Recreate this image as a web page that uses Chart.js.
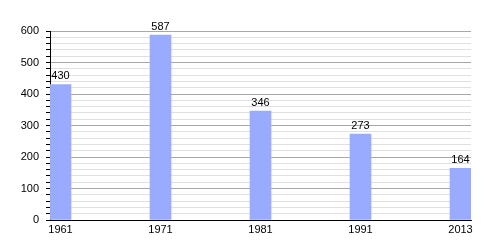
<!DOCTYPE html>
<html>
<head>
<meta charset="utf-8">
<script src="https://cdn.jsdelivr.net/npm/chart.js@4"></script>
<style>
  html, body { margin: 0; padding: 0; background: #fff; }
  #wrap { width: 500px; height: 250px; }
</style>
</head>
<body>
<div id="wrap"><canvas id="chart"></canvas></div>
<script>
// ==== DATA ====
const years  = ['1961', '1971', '1981', '1991', '2013'];
const values = [430, 587, 346, 273, 164];
const yTicks = [0, 100, 200, 300, 400, 500, 600];

const BAR_COLOR = '#99abff';
const FONT = { family: '"Liberation Sans", Arial, sans-serif', size: 11 };

// value labels above each bar
const valueLabels = {
  id: 'valueLabels',
  afterDatasetsDraw(chart) {
    const ctx = chart.ctx;
    const meta = chart.getDatasetMeta(0);
    ctx.save();
    ctx.font = `${FONT.size}px ${FONT.family}`;
    ctx.fillStyle = '#000';
    ctx.textAlign = 'center';
    ctx.textBaseline = 'bottom';
    meta.data.forEach((bar, i) => {
      ctx.fillText(String(values[i]), bar.x, bar.y - 3);
    });
    ctx.restore();
  }
};

new Chart(document.getElementById('chart'), {
  type: 'bar',
  data: {
    datasets: [{
      data: values.map((v, i) => ({ x: i, y: v })),
      backgroundColor: BAR_COLOR,
      borderWidth: 0,
      barThickness: 21
    }]
  },
  options: {
    responsive: true,
    maintainAspectRatio: false,
    animation: false,
    layout: { padding: { top: 31, right: 29, left: 0, bottom: 0 } },
    plugins: { legend: { display: false }, tooltip: { enabled: false } },
    scales: {
      x: {
        type: 'linear',
        offset: false,
        min: -0.105,
        max: 4.105,
        afterBuildTicks: s => { s.ticks = years.map((_, i) => ({ value: i })); },
        afterFit: s => { s.height = 30; },
        grid: { display: false, drawTicks: false },
        border: { display: true, color: '#000', width: 1 },
        ticks: {
          color: '#000',
          font: FONT,
          padding: 3,
          maxRotation: 0,
          autoSkip: false,
          callback: v => years[v] ?? ''
        }
      },
      y: {
        min: 0,
        max: 600,
        afterFit: s => { s.width = 50; },
        ticks: {
          stepSize: 20,
          autoSkip: false,
          color: '#000',
          font: FONT,
          padding: 7,
          callback: v => (yTicks.includes(v) ? String(v) : '')
        },
        grid: {
          color: c => (c.tick && c.tick.value % 100 === 0 ? '#a8a8a8' : '#e0e0e0'),
          tickColor: '#000',
          tickLength: 4,
          lineWidth: 1
        },
        border: { display: true, color: '#000', width: 1 }
      }
    }
  },
  plugins: [valueLabels]
});
</script>
</body>
</html>
